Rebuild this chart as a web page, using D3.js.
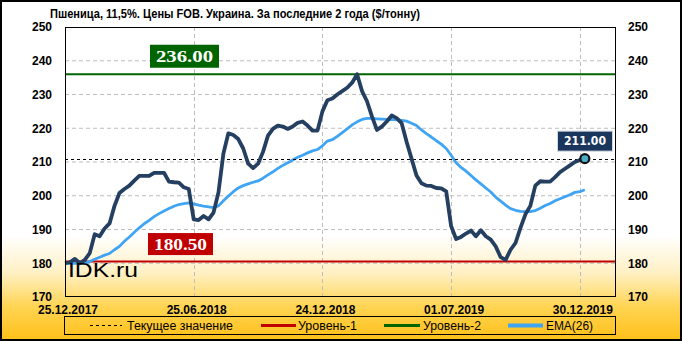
<!DOCTYPE html>
<html><head><meta charset="utf-8">
<script src="https://cdn.jsdelivr.net/npm/d3@7"></script>
<style>html,body{margin:0;padding:0;background:#fff}svg{display:block}</style>
</head><body>
<script>
const titleText = "Пшеница,  11,5%. Цены FOB.  Украина. За последние 2 года ($/тонну)";
const xLabels = ["25.12.2017","25.06.2018","24.12.2018","01.07.2019","30.12.2019"];
const xLabelIdx = [0,26,52,78,104];
const yTicks = [170,180,190,200,210,220,230,240,250];
const price = [180,180.3,181.3,180,181,183,188.6,188,190.3,191.8,
  197,200.8,202,203,204.5,205.9,205.9,205.9,206.8,206.8,
  206.8,204.2,204,203.9,202.5,202,193,192.8,194,193,
  195,201,212.5,218.5,218,216.8,214,209.5,208.2,209.5,
  213,217.8,219.8,220.8,220.5,219.8,220.5,221.6,222,220.8,
  219.3,219.3,225,228.3,228.8,230,231,232,233.5,236,
  231,228,223.5,219.5,220.5,222,223.8,223,221.5,216,
  211,206,203.7,203,202.9,202.3,202.2,201.3,191,187.2,
  187.8,188.8,189.7,188,189.8,188,187,185,181.8,181,
  184,186,190.5,194.5,197,203,204.3,204.2,204.2,205.5,
  207,208,209,210,210.6,211];
const ema = [180,180,180,180,180,180.5,181.2,181.8,182.4,182.9,
  184,185,186.5,187.8,189.2,190.5,191.7,192.7,193.8,194.7,
  195.5,196.2,196.9,197.4,197.7,197.9,197.6,197.2,196.9,196.7,
  196.5,197,198.5,199.9,201.2,202.3,203,203.5,204,204.4,
  205.2,206.2,207.1,208.1,209,209.8,210.6,211.4,212,212.7,
  213.3,213.7,214.8,216.2,216.6,217.6,218.7,219.8,221,221.9,
  222.6,222.9,222.9,222.8,222.7,222.6,222.6,222.5,222.3,222.1,
  221.5,220.8,219.5,218.4,217.4,216.3,215.3,214,212,209.8,
  208.4,207.3,206,204.7,203.5,202.3,201.1,199.6,198.4,197.2,
  196.2,195.7,195.4,195.3,195.3,195.6,196.3,197.1,197.7,198.5,
  199.1,199.7,200.3,201,201.2,201.8];
const level1 = 180.5;
const level2 = 236;
const currentValue = 211;
const legendItems = ["Текущее значение","Уровень-1","Уровень-2","EMA(26)"];

const W = 682, H = 341;
const m = {l:65, r:616, t:27, b:297};
const svg = d3.select("body").append("svg").attr("width",W).attr("height",H);
const defs = svg.append("defs");
const grad = defs.append("linearGradient").attr("id","bg").attr("x1",0).attr("y1",0).attr("x2",0).attr("y2",1);
grad.append("stop").attr("offset","0.69").attr("stop-color","#ffffff");
grad.append("stop").attr("offset","0.80").attr("stop-color","#fff0c4");
grad.append("stop").attr("offset","0.90").attr("stop-color","#ffd452");
grad.append("stop").attr("offset","1").attr("stop-color","#ffbf17");
svg.append("rect").attr("x",0).attr("y",0).attr("width",W).attr("height",H).attr("fill","url(#bg)");
svg.append("rect").attr("x",1).attr("y",1).attr("width",W-2).attr("height",H-2).attr("fill","none").attr("stroke","#000").attr("stroke-width",2);

const x = d3.scaleLinear().domain([0,111.3]).range([m.l,m.r]);
const y = d3.scaleLinear().domain([170,250]).range([m.b,m.t]);

// title
svg.append("text").attr("x",50).attr("y",18).attr("font-family","Liberation Sans, Arial, sans-serif")
  .attr("font-weight","bold").attr("font-size",12.5).attr("textLength",370).attr("lengthAdjust","spacingAndGlyphs")
  .text(titleText);

// grid
const grid = svg.append("g");
grid.selectAll("line.h").data(yTicks.filter(d=>d>170 && d<250)).join("line")
  .attr("x1",m.l).attr("x2",m.r).attr("y1",d=>y(d)).attr("y2",d=>y(d))
  .attr("stroke","#bdbdbd").attr("stroke-dasharray","4,3").attr("stroke-width",1);
grid.selectAll("line.v").data(xLabelIdx.filter(d=>d>0)).join("line")
  .attr("x1",d=>Math.round(x(d))+0.5).attr("x2",d=>Math.round(x(d))+0.5).attr("y1",m.t).attr("y2",m.b)
  .attr("stroke","#bdbdbd").attr("stroke-dasharray","4,3").attr("stroke-width",1);

// axes
const fontAxis = "Liberation Sans, Arial, sans-serif";
const yl = svg.append("g").attr("transform",`translate(${m.l-13},0)`)
  .call(d3.axisLeft(y).tickValues(yTicks).tickSize(0).tickPadding(0));
const yr = svg.append("g").attr("transform",`translate(${m.r+12},0)`)
  .call(d3.axisRight(y).tickValues(yTicks).tickSize(0).tickPadding(0));
const xb = svg.append("g").attr("transform",`translate(2.5,${m.b+8})`)
  .call(d3.axisBottom(x).tickValues(xLabelIdx).tickFormat((d,i)=>xLabels[i]).tickSize(0).tickPadding(0));
[yl,yr,xb].forEach(g=>{
  g.select(".domain").remove();
  g.selectAll("text").attr("font-family",fontAxis).attr("font-weight","bold").attr("font-size",12).attr("fill","#000");
});

// levels
svg.append("line").attr("x1",m.l).attr("x2",m.r).attr("y1",y(level1)).attr("y2",y(level1))
  .attr("stroke","#c00000").attr("stroke-width",2);
svg.append("line").attr("x1",m.l).attr("x2",m.r).attr("y1",y(level2)).attr("y2",y(level2))
  .attr("stroke","#006400").attr("stroke-width",2);

// lines
const line = d3.line().x((d,i)=>x(i)).y(d=>y(d));
svg.append("path").datum(ema).attr("d",line).attr("fill","none").attr("stroke","#3fa4f4").attr("stroke-width",2.8).attr("stroke-linejoin","round");
svg.append("line").attr("x1",m.l).attr("x2",m.r).attr("y1",Math.round(y(currentValue))+0.5).attr("y2",Math.round(y(currentValue))+0.5)
  .attr("stroke","#000").attr("stroke-width",1).attr("stroke-dasharray","3,3");
svg.append("path").datum(price).attr("d",line).attr("fill","none").attr("stroke","#243f60").attr("stroke-width",3.8).attr("stroke-linejoin","round");

// watermark
svg.append("text").attr("x",68).attr("y",277).attr("font-family","Liberation Sans, Arial, sans-serif")
  .attr("font-size",21).attr("textLength",70).attr("lengthAdjust","spacingAndGlyphs").attr("fill","#000").text("IDK.ru");

// plot frame
svg.append("rect").attr("x",m.l+0.5).attr("y",m.t+0.5).attr("width",m.r-m.l-1).attr("height",m.b-m.t-1)
  .attr("fill","none").attr("stroke","#000").attr("stroke-width",1);

// last point marker
const li = price.length-1;
svg.append("circle").attr("cx",x(li)).attr("cy",y(price[li])).attr("r",4.5)
  .attr("fill","#4bacc6").attr("stroke","#111").attr("stroke-width",2.2);

// value boxes
function box(bx, by, bw, bh, fill, txt, font, fs, tl, stroke){
  svg.append("rect").attr("x",bx).attr("y",by).attr("width",bw).attr("height",bh).attr("fill",fill)
    .attr("stroke",stroke||"none").attr("stroke-width",1);
  svg.append("text").attr("x",bx+bw/2).attr("y",by+bh/2).attr("dy","0.36em").attr("text-anchor","middle")
    .attr("font-family",font).attr("font-weight","bold").attr("font-size",fs).attr("fill","#fff")
    .attr("textLength",tl).attr("lengthAdjust","spacingAndGlyphs").text(txt);
}
box(150, y(level2)-29.5, 69, 23, "#006400", level2.toFixed(2), "Liberation Serif, Times New Roman, serif", 17, 57);
box(148, y(level1)-28.5, 65, 22, "#c00000", level1.toFixed(2), "Liberation Serif, Times New Roman, serif", 17, 53);
box(557.5, y(currentValue)-27.5, 55, 20, "#1b365d", currentValue.toFixed(2), "DejaVu Sans, Verdana, sans-serif", 12, 42, "#d0d8e0");

// legend
const lg = svg.append("g");
lg.append("rect").attr("x",64.5).attr("y",316.5).attr("width",551).attr("height",18).attr("fill","none").attr("stroke","#000").attr("stroke-width",1);
const ly = 325.5;
const sw = [
  {x1:90,x2:122,color:"#000",w:1,dash:"3,3",tx:127,tl:106},
  {x1:261,x2:296,color:"#c00000",w:3,dash:null,tx:298,tl:59},
  {x1:384,x2:420,color:"#006400",w:3,dash:null,tx:423,tl:58},
  {x1:508,x2:543,color:"#3fa4f4",w:4,dash:null,tx:546,tl:47}
];
sw.forEach((s,i)=>{
  lg.append("line").attr("x1",s.x1).attr("x2",s.x2).attr("y1",ly).attr("y2",ly)
    .attr("stroke",s.color).attr("stroke-width",s.w).attr("stroke-dasharray",s.dash);
  lg.append("text").attr("x",s.tx).attr("y",ly).attr("dy","0.36em").attr("font-family","Liberation Sans, Arial, sans-serif")
    .attr("font-size",12).attr("textLength",s.tl).attr("lengthAdjust","spacingAndGlyphs").text(legendItems[i]);
});
</script>
</body></html>
